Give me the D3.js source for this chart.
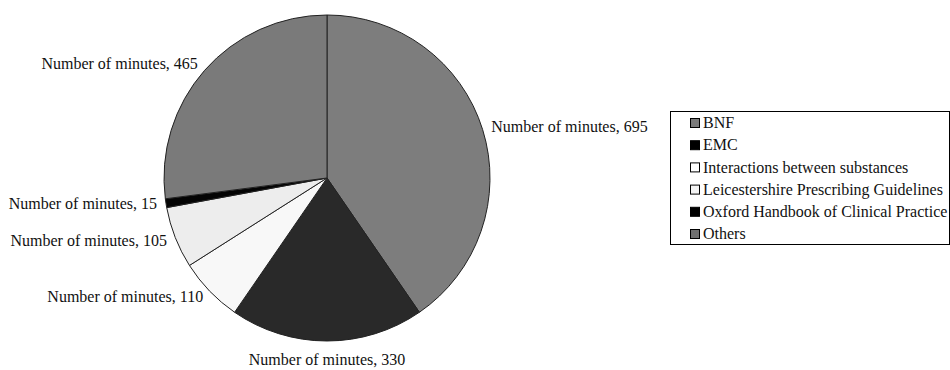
<!DOCTYPE html>
<html>
<head>
<meta charset="utf-8">
<script src="https://cdn.jsdelivr.net/npm/d3@7"></script>
<style>
  html, body { margin: 0; padding: 0; background: #fff; }
  svg { display: block; }
</style>
</head>
<body>
<svg id="chart" width="950" height="370"></svg>
<script>
// Minutes spent per information source
const sources = ["BNF", "EMC", "Interactions between substances", "Leicestershire Prescribing Guidelines", "Oxford Handbook of Clinical Practice", "Others"];
const minutes = [695, 330, 110, 105, 15, 465];
const sliceColors = ["#8e8e8e", "#2e2e2e", "#ffffff", "#f4f4f4", "#050505", "#8a8a8a"];
const legendColors = ["#7a7a7a", "#000000", "#ffffff", "#f4f4f4", "#000000", "#6f6f6f"];
const labelPrefix = "Number of minutes, ";

const FONT = '"Liberation Serif"';
const svg = d3.select("#chart");
const cx = 327, cy = 178, radius = 163;

const data = sources.map((s, i) => ({ source: s, value: minutes[i], color: sliceColors[i], legend: legendColors[i] }));

const pie = d3.pie().value(d => d.value).sort(null);
const arcs = pie(data);
const arc = d3.arc().innerRadius(0).outerRadius(radius);

// Soft radial shading per slice colour, darker toward the rim
const defs = svg.append("defs");
data.forEach((d, i) => {
  const c = d3.color(d.color);
  const light = d3.hsl(c).l > 0.9;
  const g = defs.append("radialGradient")
    .attr("id", "shade" + i)
    .attr("gradientUnits", "userSpaceOnUse")
    .attr("cx", cx).attr("cy", cy).attr("r", radius);
  g.append("stop").attr("offset", "0%").attr("stop-color", c.brighter(0.1));
  g.append("stop").attr("offset", "80%").attr("stop-color", c);
  g.append("stop").attr("offset", "100%").attr("stop-color", light ? c.darker(0.08) : c.darker(0.35));
});

const pieG = svg.append("g").attr("transform", `translate(${cx},${cy})`);
pieG.selectAll("path.slice")
  .data(arcs)
  .join("path")
  .attr("class", "slice")
  .attr("d", arc)
  .attr("fill", (d, i) => `url(#shade${i})`)
  .attr("stroke", "#222")
  .attr("stroke-width", 1);

// Data labels outside the pie
const labelR = radius + 9;
pieG.selectAll("text.lbl")
  .data(arcs)
  .join("text")
  .attr("class", "lbl")
  .style("font-family", FONT)
  .attr("font-size", 16)
  .attr("fill", "#111")
  .each(function (d) {
    const a = (d.startAngle + d.endAngle) / 2;
    const x = labelR * Math.sin(a);
    const y = -labelR * Math.cos(a);
    const t = d3.select(this);
    let anchor = "middle";
    if (Math.abs(x) > 20) anchor = x > 0 ? "start" : "end";
    let dy = "0.3em";
    if (anchor === "middle") dy = y > 0 ? "0.95em" : "-0.3em";
    t.attr("x", x).attr("y", y).attr("dy", dy).attr("text-anchor", anchor);
  })
  .text(d => labelPrefix + d.data.value);

// Legend
const lg = svg.append("g").attr("transform", "translate(670,111)");
lg.append("rect")
  .attr("x", 0.5).attr("y", 0.5)
  .attr("width", 279).attr("height", 133)
  .attr("fill", "#fff").attr("stroke", "#000").attr("stroke-width", 1);
const rows = lg.selectAll("g.row")
  .data(data)
  .join("g")
  .attr("class", "row")
  .attr("transform", (d, i) => `translate(20,${12 + i * 22.2})`);
rows.append("rect")
  .attr("x", 0.5).attr("y", -4.5).attr("width", 9).attr("height", 9)
  .attr("fill", d => d.legend).attr("stroke", "#000").attr("stroke-width", 1);
rows.append("text")
  .attr("x", 13).attr("y", 0)
  .attr("dy", "0.33em")
  .style("font-family", FONT)
  .attr("font-size", 16)
  .attr("fill", "#111")
  .text(d => d.source);
</script>
</body>
</html>
